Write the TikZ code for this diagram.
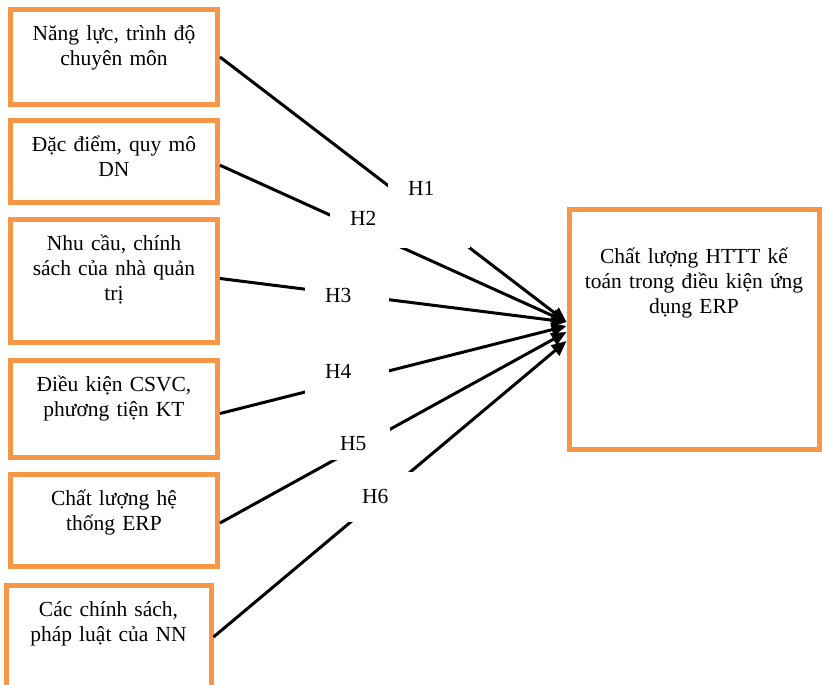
\documentclass[tikz,border=0pt]{standalone}
\usepackage{fontspec}
\setmainfont{Liberation Serif}
\usetikzlibrary{arrows.meta}
\definecolor{boxorange}{HTML}{F79646}

\begin{document}
\begin{tikzpicture}[x=0.5pt, y=-0.5pt,
  font=\fontsize{10.75pt}{12.5pt}\selectfont,
  box/.style = {draw=boxorange, line width=2.5pt, inner sep=0pt,
    align=center, anchor=base, text height=15.5pt},
  hyp/.style = {fill=white, inner xsep=10pt, inner ysep=0pt,
    align=left, anchor=base},
  link/.style = {line width=1.5pt, -{Triangle[length=7.5pt,width=6.5pt]}}]
  \useasboundingbox (0,0) rectangle (822,684);
  \clip (0,0) rectangle (822,684);
  % factors
  \node[box, text width=103.5pt, text depth=32pt] (nangluc) at (114,40.5)
    {Năng lực, trình độ\\chuyên môn};
  \node[box, text width=103.5pt, text depth=25.25pt] (dacdiem) at (114,151.5)
    {Đặc điểm, quy mô\\DN};
  \node[box, text width=103.5pt, text depth=46pt] (nhucau) at (114,250)
    {Nhu cầu, chính\\sách của nhà quản\\trị};
  \node[box, text width=103.5pt, text depth=33pt] (dieukien) at (114,391)
    {Điều kiện CSVC,\\phương tiện KT};
  \node[box, text width=103.5pt, text depth=30.5pt] (hethong) at (114,505)
    {Chất lượng hệ\\thống ERP};
  \node[box, text width=102.5pt, text depth=36.5pt] (chinhsach) at (108.5,616)
    {Các chính sách,\\pháp luật của NN};
  % outcome
  \node[box, text width=125pt, text height=27pt, text depth=93pt] (chatluong) at (694,263)
    {Chất lượng HTTT kế\\toán trong điều kiện ứng\\dụng ERP};
  % hypotheses
  \draw[link] (nangluc.east) -- ([yshift=3.5pt]chatluong.west);
  \draw[link] ([yshift=-2pt]dacdiem.east) -- ([yshift=3.5pt]chatluong.west);
  \draw[link] ([yshift=1pt]nhucau.east) -- ([yshift=3.5pt]chatluong.west);
  \draw[link] ([yshift=-2.5pt]dieukien.east) -- ([yshift=1.5pt]chatluong.west);
  \draw[link] ([yshift=-1.5pt]hethong.east) -- ([yshift=-1.5pt]chatluong.west);
  \draw[link] (chinhsach.east) -- ([yshift=-6pt]chatluong.west);
  \node[hyp, text width=21pt, text height=11.5pt, text depth=26.5pt] (h1) at (429,195) {H1};
  \node[hyp, text width=15pt, text height=10pt, text depth=11.5pt] (h2) at (365,225) {H2};
  \node[hyp, text width=22pt, text height=11pt, text depth=9pt] (h3) at (347,302) {H3};
  \node[hyp, text width=22pt, text height=11.5pt, text depth=11pt] (h4) at (347,378) {H4};
  \node[hyp, text width=15pt, text height=12.5pt, text depth=5pt] (h5) at (355,450) {H5};
  \node[hyp, text width=16.5pt, text height=15.5pt, text depth=9.5pt] (h6) at (378.5,503) {H6};
\end{tikzpicture}
\end{document}
